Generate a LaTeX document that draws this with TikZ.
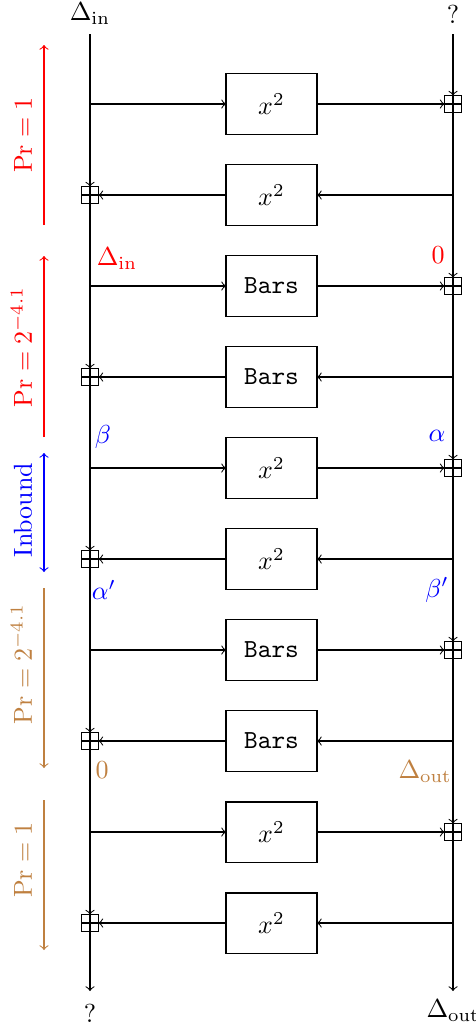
\documentclass[tikz,border=0pt]{standalone}
\begin{document}
\begin{tikzpicture}[x=0.3846pt,y=-0.3846pt,
  fbox/.style={draw, rectangle, minimum width=35pt, minimum height=23.1pt, inner sep=0pt, outer sep=0pt},
  xorbox/.style={draw, rectangle, minimum size=6.5pt, inner sep=0pt, outer sep=0pt,
    path picture={\draw (path picture bounding box.north) -- (path picture bounding box.south)
                        (path picture bounding box.west) -- (path picture bounding box.east);}},
  arr/.style={->},
  lbl/.style={rotate=90, anchor=base}]
\useasboundingbox (0,0) rectangle (476,1028);

% top / bottom labels
\node (tin) at (90,14) {$\Delta_{\mathrm{in}}$};
\node (tq) at (453,14) {?};
\node (bq) at (90,1013) {?};
\node (bout) at (453,1011) {$\Delta_{\mathrm{out}}$};
\coordinate (lt) at (90,34);
\coordinate (rt) at (453,34);
\coordinate (lb) at (90,991);
\coordinate (rb) at (453,991);

% odd rows: left to right
\foreach \i/\y/\t in {1/104/{$x^2$}, 3/286/{\texttt{Bars}}, 5/468/{$x^2$}, 7/650/{\texttt{Bars}}, 9/832/{$x^2$}}{
  \node[fbox] (b\i) at (271.5,\y) {\t};
  \node[xorbox] (xr\i) at (453,\y) {};
  \coordinate (sl\i) at (90,\y);
  \draw[arr] (sl\i) -- (b\i);
  \draw[arr] (b\i) -- (xr\i);
}
% even rows: right to left
\foreach \i/\y/\t in {2/195/{$x^2$}, 4/377/{\texttt{Bars}}, 6/559/{$x^2$}, 8/741/{\texttt{Bars}}, 10/923/{$x^2$}}{
  \node[fbox] (b\i) at (271.5,\y) {\t};
  \node[xorbox] (xl\i) at (90,\y) {};
  \coordinate (sr\i) at (453,\y);
  \draw[arr] (sr\i) -- (b\i);
  \draw[arr] (b\i) -- (xl\i);
}

% vertical lines
\draw[arr] (lt) -- (xl2);
\draw[arr] (xl2) -- (xl4);
\draw[arr] (xl4) -- (xl6);
\draw[arr] (xl6) -- (xl8);
\draw[arr] (xl8) -- (xl10);
\draw[arr] (xl10) -- (lb);
\draw[arr] (rt) -- (xr1);
\draw[arr] (xr1) -- (xr3);
\draw[arr] (xr3) -- (xr5);
\draw[arr] (xr5) -- (xr7);
\draw[arr] (xr7) -- (xr9);
\draw[arr] (xr9) -- (rb);

% differences
\node[red] (d1) at (117,259) {$\Delta_{\mathrm{in}}$};
\node[red] (d2) at (438,255) {$0$};
\node[blue] (d3) at (103,437) {$\beta$};
\node[blue] (d4) at (437,436) {$\alpha$};
\node[blue] (d5) at (104,590) {$\alpha'$};
\node[blue] (d6) at (437,590) {$\beta'$};
\node[brown] (d7) at (102,770) {$0$};
\node[brown] (d8) at (425,772) {$\Delta_{\mathrm{out}}$};

% probability arrows
\coordinate (p1a) at (44,225); \coordinate (p1b) at (44,45);
\coordinate (p2a) at (44,437); \coordinate (p2b) at (44,256);
\coordinate (p3a) at (44,453); \coordinate (p3b) at (44,572);
\coordinate (p4a) at (44,588); \coordinate (p4b) at (44,768);
\coordinate (p5a) at (44,800); \coordinate (p5b) at (44,950);
\draw[->,red] (p1a) -- (p1b);
\draw[->,red] (p2a) -- (p2b);
\draw[<->,blue] (p3a) -- (p3b);
\draw[->,brown] (p4a) -- (p4b);
\draw[->,brown] (p5a) -- (p5b);
\node[lbl,red] (l1) at (32,135) {$\Pr = 1$};
\node[lbl,red] (l2) at (32,347) {$\Pr = 2^{-4.1}$};
\node[lbl,blue] (l3) at (32,510) {Inbound};
\node[lbl,brown] (l4) at (32,664) {$\Pr = 2^{-4.1}$};
\node[lbl,brown] (l5) at (32,860) {$\Pr = 1$};
\end{tikzpicture}
\end{document}
